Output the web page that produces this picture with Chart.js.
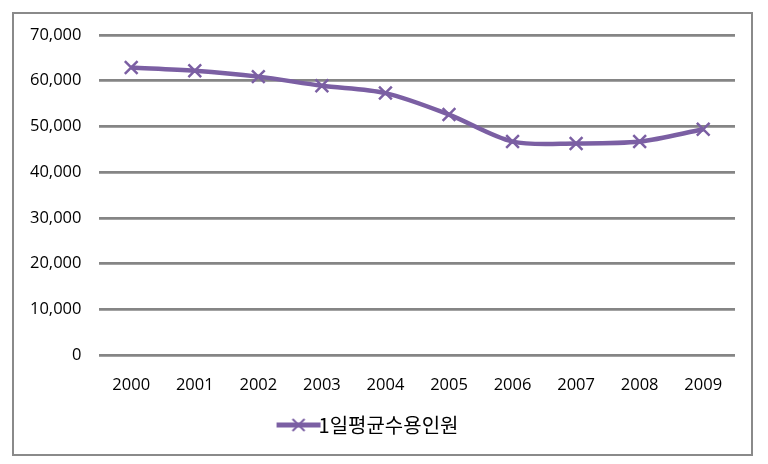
<!DOCTYPE html>
<html>
<head>
<meta charset="utf-8">
<script src="https://cdn.jsdelivr.net/npm/chart.js@4/dist/chart.umd.min.js"></script>
<style>
  body { margin: 0; background: #fff; }
  #wrap { position: relative; width: 768px; height: 464px; }
  #frame { position: absolute; left: 12px; top: 12px; width: 741px; height: 444px; border: 2px solid #8a8a8a; box-sizing: border-box; }
  canvas { position: absolute; left: 0; top: 0; }
</style>
</head>
<body>
<div id="wrap">
  <div id="frame"></div>
  <canvas id="myChart" width="768" height="464"></canvas>
</div>
<script>
// 연도별 1일 평균 수용인원
var years = ['2000', '2001', '2002', '2003', '2004', '2005', '2006', '2007', '2008', '2009']
var inmates = [62900, 62200, 60900, 58900, 57300, 52600, 46700, 46300, 46700, 49400]
var seriesName = '1일평균수용인원'
var yTicks = [0, 10000, 20000, 30000, 40000, 50000, 60000, 70000]

var purple = '#7b5fa3'

// legend sample: a short line with the cross marker
var legendIcon = document.createElement('canvas')
legendIcon.width = 46
legendIcon.height = 14
var ic = legendIcon.getContext('2d')
ic.strokeStyle = purple
ic.lineWidth = 5
ic.beginPath()
ic.moveTo(1, 7)
ic.lineTo(45, 7)
ic.stroke()
ic.lineWidth = 2
ic.beginPath()
ic.moveTo(17, 1)
ic.lineTo(29, 13)
ic.moveTo(29, 1)
ic.lineTo(17, 13)
ic.stroke()

var ctx = document.getElementById('myChart')

var myChart = new Chart(ctx, {
    type: 'line',
    data: {
        labels: years,
        datasets: [{
            label: seriesName,
            data: inmates,
            borderColor: purple,
            backgroundColor: purple,
            borderWidth: 4.5,
            tension: 0.3,
            pointStyle: 'crossRot',
            pointRadius: 9,
            pointBorderWidth: 2.5,
            pointBorderColor: purple
        }]
    },
    options: {
        responsive: false,
        animation: false,
        layout: { padding: { left: 12, right: 33, top: 35, bottom: 19 } },
        scales: {
            x: {
                offset: true,
                grid: { display: false },
                border: { display: false },
                ticks: { color: '#000', padding: 12, font: { family: 'Open Sans', size: 16.5 } }
            },
            y: {
                min: 0,
                max: 70000,
                afterBuildTicks: function (axis) {
                    axis.ticks = yTicks.map(function (v) { return { value: v } })
                },
                grid: { color: '#858585', lineWidth: 2.8, drawTicks: false },
                border: { display: false },
                ticks: {
                    color: '#000',
                    padding: 18,
                    font: { family: 'Open Sans', size: 16.5 },
                    callback: function (v) { return v.toLocaleString('en-US') }
                }
            }
        },
        plugins: {
            legend: {
                position: 'bottom',
                labels: {
                    color: '#000',
                    padding: 8,
                    font: { family: 'Noto Sans CJK KR', size: 20 },
                    usePointStyle: true,
                    generateLabels: function (chart) {
                        return [{
                            text: seriesName,
                            pointStyle: legendIcon,
                            fillStyle: purple,
                            strokeStyle: purple,
                            lineWidth: 0,
                            datasetIndex: 0
                        }]
                    }
                }
            },
            tooltip: { enabled: false }
        }
    }
});
</script>
</body>
</html>
